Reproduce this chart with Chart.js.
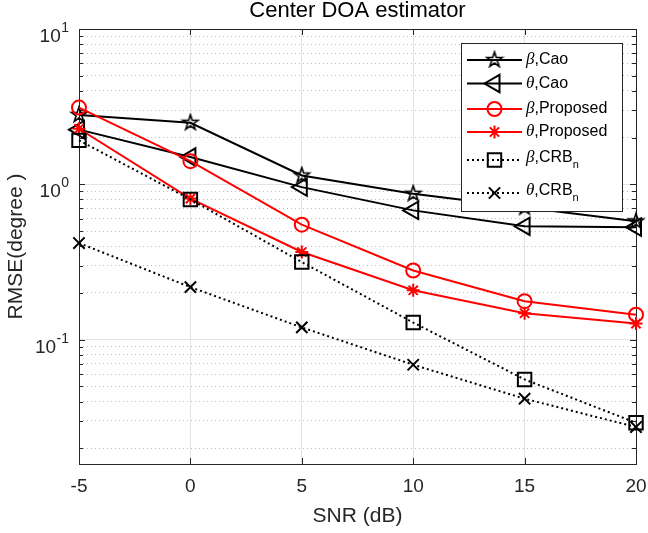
<!DOCTYPE html>
<html>
<head>
<meta charset="utf-8">
<script src="https://cdn.jsdelivr.net/npm/chart.js@4.4.0/dist/chart.umd.min.js"></script>
<style>
	html, body { margin: 0; padding: 0; background: #fff; }
</style>
</head>
<body>
<canvas id="chart" width="648" height="533"></canvas>
<script>
// values
const snr = [-5, 0, 5, 10, 15, 20];
const betaCao = [2.8, 2.49, 1.14, 0.87, 0.71, 0.578];
const thetaCao = [2.25, 1.5, 0.96, 0.68, 0.537, 0.53];
const betaProposed = [3.12, 1.41, 0.55, 0.279, 0.177, 0.145];
const thetaProposed = [2.28, 0.81, 0.367, 0.208, 0.148, 0.127];
const betaCrb = [1.92, 0.80, 0.316, 0.129, 0.0555, 0.0292];
const thetaCrb = [0.419, 0.218, 0.12, 0.069, 0.0417, 0.0274];

const xTicks = [-5, 0, 5, 10, 15, 20];
const yLabelValues = [0.1, 1, 10];
const yLabelExps = ["-1", "0", "1"];

const legendGreek = ["β", "θ", "β", "θ", "β", "θ"];
const legendNames = ["Cao", "Cao", "Proposed", "Proposed", "CRB", "CRB"];
const legendSubs = ["", "", "", "", "n", "n"];

const SANS = '"Liberation Sans", Arial, sans-serif';
const AXIS = "#262626";

const isMajor = (v) => {
	const l = Math.log10(v);
	return Math.abs(l - Math.round(l)) < 1e-6;
};

const makePentagram = (r, lw, color) => {
	const size = Math.ceil(2 * r + lw + 2);
	const c = document.createElement("canvas");
	c.width = size;
	c.height = size;
	const g = c.getContext("2d");
	g.translate(size / 2, size / 2);
	g.beginPath();
	for (let i = 0; i < 10; i++) {
		const rr = i % 2 === 0 ? r : r * 0.382;
		const a = -Math.PI / 2 + (i * Math.PI) / 5;
		const px = rr * Math.cos(a);
		const py = rr * Math.sin(a);
		if (i === 0) g.moveTo(px, py);
		else g.lineTo(px, py);
	}
	g.closePath();
	g.strokeStyle = color;
	g.lineWidth = lw;
	g.stroke();
	return c;
};
const pentagram = makePentagram(8, 1.6, "#000");

const series = (values) => snr.map((s, i) => ({ x: s, y: values[i] }));

const makeDataset = (values, color, style, radius, dash, rotation) => ({
	data: series(values),
	borderColor: color,
	borderWidth: 2,
	borderDash: dash,
	pointStyle: style,
	pointRadius: radius,
	pointRotation: rotation || 0,
	pointBorderColor: color,
	pointBackgroundColor: "rgba(0,0,0,0)",
	pointBorderWidth: 2,
	tension: 0,
	clip: false,
});

const datasets = [
	makeDataset(betaCao, "#000", pentagram, 8, []),
	makeDataset(thetaCao, "#000", "triangle", 10, [], -90),
	makeDataset(betaProposed, "#ff0000", "circle", 7, []),
	makeDataset(thetaProposed, "#ff0000", "star", 6.5, []),
	makeDataset(betaCrb, "#000", "rect", 9.5, [2, 3]),
	makeDataset(thetaCrb, "#000", "crossRot", 8, [2, 3]),
];
datasets.forEach((d, i) => (d.order = datasets.length - i));

const drawMarker = (ctx, ds, x, y) => {
	ctx.save();
	ctx.strokeStyle = ds.pointBorderColor;
	ctx.fillStyle = "rgba(0,0,0,0)";
	ctx.lineWidth = ds.pointBorderWidth;
	ctx.setLineDash([]);
	if (Chart.helpers && Chart.helpers.drawPoint) {
		Chart.helpers.drawPoint(
			ctx,
			{ pointStyle: ds.pointStyle, rotation: ds.pointRotation, radius: ds.pointRadius, borderWidth: ds.pointBorderWidth },
			x,
			y
		);
	}
	ctx.restore();
};

const axisStyle = {
	id: "axisStyle",
	beforeDatasetsDraw(chart) {
		const { ctx, chartArea: a, scales } = chart;
		const x = scales.x;
		const y = scales.y;
		ctx.save();
		ctx.strokeStyle = AXIS;
		ctx.lineWidth = 1;
		ctx.setLineDash([]);
		ctx.beginPath();
		x.ticks.forEach((t) => {
			const px = Math.round(x.getPixelForValue(t.value)) + 0.5;
			ctx.moveTo(px, a.bottom);
			ctx.lineTo(px, a.bottom - 6);
			ctx.moveTo(px, a.top);
			ctx.lineTo(px, a.top + 6);
		});
		y.ticks.forEach((t) => {
			const py = Math.round(y.getPixelForValue(t.value)) + 0.5;
			const len = isMajor(t.value) ? 6 : 4;
			ctx.moveTo(a.left, py);
			ctx.lineTo(a.left + len, py);
			ctx.moveTo(a.right, py);
			ctx.lineTo(a.right - len, py);
		});
		ctx.stroke();
		ctx.strokeRect(Math.round(a.left) + 0.5, Math.round(a.top) + 0.5, Math.round(a.right - a.left), Math.round(a.bottom - a.top));
		ctx.restore();
	},
	afterDraw(chart) {
		const { ctx, chartArea: a, scales } = chart;
		const y = scales.y;
		ctx.save();
		// y tick labels with superscripts
		ctx.fillStyle = AXIS;
		ctx.textBaseline = "alphabetic";
		ctx.textAlign = "right";
		yLabelValues.forEach((v, i) => {
			const py = y.getPixelForValue(v);
			ctx.font = "14px " + SANS;
			const right = a.left - 10;
			ctx.fillText(yLabelExps[i], right, py + 3);
			const w = ctx.measureText(yLabelExps[i]).width;
			ctx.font = "19px " + SANS;
			ctx.fillText("10", right - w - 0.5, py + 13);
		});
		// title
		ctx.fillStyle = "#000";
		ctx.font = "22px " + SANS;
		ctx.textAlign = "center";
		ctx.textBaseline = "middle";
		ctx.fillText("Center DOA estimator", (a.left + a.right) / 2, 11);

		// legend
		const box = { x: 461, y: 43, w: 161, h: 168 };
		const rows = [60, 83.5, 109, 132, 160, 193];
		ctx.fillStyle = "#fff";
		ctx.fillRect(box.x, box.y, box.w, box.h);
		ctx.strokeStyle = AXIS;
		ctx.lineWidth = 1;
		ctx.strokeRect(box.x + 0.5, box.y + 0.5, box.w, box.h);
		chart.data.datasets.forEach((ds, i) => {
			const ry = rows[i];
			ctx.save();
			ctx.strokeStyle = ds.borderColor;
			ctx.lineWidth = ds.borderWidth;
			ctx.setLineDash(ds.borderDash);
			ctx.beginPath();
			ctx.moveTo(467, ry);
			ctx.lineTo(522, ry);
			ctx.stroke();
			ctx.restore();
			drawMarker(ctx, ds, 494.5, ry);
			const ty = legendSubs[i] ? ry - 2.5 : ry;
			ctx.fillStyle = "#000";
			ctx.textAlign = "left";
			ctx.textBaseline = "middle";
			let tx = 526;
			ctx.font = 'italic 17px "Liberation Serif", "Times New Roman", serif';
			ctx.fillText(legendGreek[i], tx, ty);
			tx += ctx.measureText(legendGreek[i]).width;
			ctx.font = "16px " + SANS;
			const main = "," + legendNames[i];
			ctx.fillText(main, tx, ty);
			tx += ctx.measureText(main).width;
			if (legendSubs[i]) {
				ctx.font = "11px " + SANS;
				ctx.fillText(legendSubs[i], tx, ty + 7);
			}
		});
		ctx.restore();
	},
};

Chart.defaults.font.family = SANS;
Chart.defaults.color = AXIS;

window.onload = () => {
	const canvas = document.getElementById("chart");
	new Chart(canvas, {
		type: "line",
		data: { datasets },
		plugins: [axisStyle],
		options: {
			responsive: false,
			animation: false,
			devicePixelRatio: 1,
			layout: { padding: { top: 29, right: 12, bottom: 0, left: 0 } },
			plugins: {
				legend: { display: false },
				title: { display: false },
				tooltip: { enabled: false },
			},
			scales: {
				x: {
					type: "linear",
					min: -5,
					max: 20,
					afterBuildTicks: (scale) => {
						scale.ticks = xTicks.map((v) => ({ value: v }));
					},
					afterFit: (scale) => {
						scale.height = 69;
						scale.paddingLeft = 0;
						scale.paddingRight = 0;
					},
					ticks: {
						font: { size: 19 },
						color: AXIS,
						padding: 11,
						autoSkip: false,
						maxRotation: 0,
					},
					grid: {
						color: "#e3e3e3",
						lineWidth: 1,
						drawTicks: false,
					},
					border: { display: false },
					title: {
						display: true,
						text: "SNR (dB)",
						font: { size: 21 },
						color: AXIS,
						padding: { top: 0, bottom: 4 },
					},
				},
				y: {
					type: "logarithmic",
					min: Math.pow(10, -1.8),
					max: 10,
					afterBuildTicks: (scale) => {
						const ticks = [];
						for (let k = -2; k <= 1; k++) {
							for (let m = 1; m <= 9; m++) {
								const v = m * Math.pow(10, k);
								if (v >= scale.min - 1e-9 && v <= scale.max + 1e-9) ticks.push({ value: v });
							}
						}
						scale.ticks = ticks;
					},
					afterFit: (scale) => {
						scale.width = 79;
					},
					ticks: { display: false, autoSkip: false },
					grid: {
						drawTicks: false,
						lineWidth: 1,
						color: (c) => (c.tick && !isMajor(c.tick.value) ? "rgba(38,38,38,0.3)" : "#e3e3e3"),
					},
					border: {
						display: false,
						dash: (c) => (c.tick && !isMajor(c.tick.value) ? [1, 3] : []),
					},
					title: {
						display: true,
						text: "RMSE(degree )",
						font: { size: 21 },
						color: AXIS,
						padding: { top: 3.5, bottom: 0 },
					},
				},
			},
		},
	});
};
</script>
</body>
</html>
